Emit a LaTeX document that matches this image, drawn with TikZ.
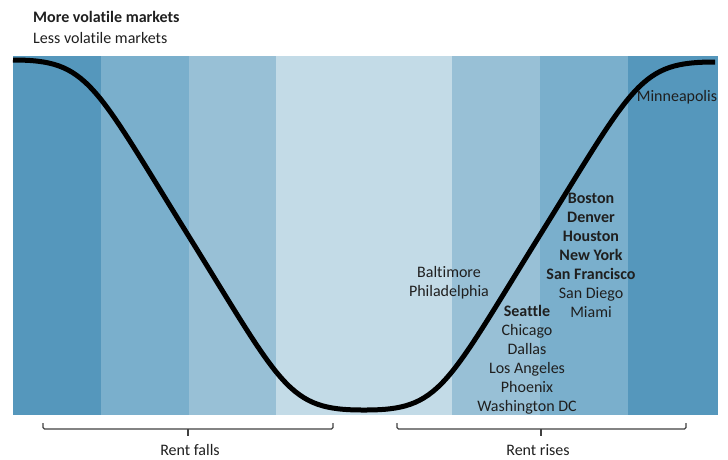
\documentclass[tikz,border=0pt]{standalone}
\usepackage{fontspec}
\setmainfont{Carlito}[Ligatures = NoCommon]
\definecolor{bandone}{HTML}{5597BC}
\definecolor{bandtwo}{HTML}{7AAFCC}
\definecolor{bandthree}{HTML}{98C0D6}
\definecolor{bandfour}{HTML}{C3DBE7}
\tikzset{
    label text/.style = {inner sep = 0pt, text = black!88,
      font = \fontsize{16}{19}\selectfont},
    city list/.style = {label text, align = center},
    bracket/.style = {draw = black!75, line width = 1.3pt,
      rounded corners = 1.5pt},
    rent curve/.style = {draw = black, line width = 5pt}
}

\begin{document}
\begin{tikzpicture}[x = 1pt, y = -1pt]
    \useasboundingbox (0, 0) rectangle (728, 459);

    \fill[bandone] (13, 56) rectangle (101, 415);
    \fill[bandtwo] (101, 56) rectangle (189, 415);
    \fill[bandthree] (189, 56) rectangle (276, 415);
    \fill[bandfour] (276, 56) rectangle (452, 415);
    \fill[bandthree] (452, 56) rectangle (540, 415);
    \fill[bandtwo] (540, 56) rectangle (628, 415);
    \fill[bandone] (628, 56) rectangle (718, 415);

    \draw[rent curve]
      (13, 60) .. controls (88, 60) and (93, 82) .. (188, 235)
      .. controls (283, 388) and (288, 410) .. (363, 410)
      -- (365, 410) .. controls (440, 410) and (445, 388) .. (540, 235)
      .. controls (635, 82) and (640, 62) .. (715, 62);

    \node[label text, anchor = west, font = \fontsize{16}{19}\selectfont\bfseries]
      (more) at (33, 17) {More volatile markets};
    \node[label text, anchor = west] (less) at (33, 38) {Less volatile markets};

    \node[label text] (minneapolis) at (677, 97) {Minneapolis};
    \node[city list] (baltimore) at (449, 283) {Baltimore\\Philadelphia};
    \node[city list] (boston) at (591, 255)
      {\textbf{Boston}\\\textbf{Denver}\\\textbf{Houston}\\\textbf{New York}\\
       \textbf{San Francisco}\\San Diego\\Miami};
    \node[city list] (seattle) at (527, 360)
      {\textbf{Seattle}\\Chicago\\Dallas\\Los Angeles\\Phoenix\\Washington DC};

    \draw[bracket] (43, 423) -- (43, 429) -- (333, 429) -- (333, 423);
    \draw[bracket] (188, 429) -- (188, 436);
    \draw[bracket] (397, 423) -- (397, 429) -- (686, 429) -- (686, 423);
    \draw[bracket] (541, 429) -- (541, 436);

    \node[label text] (falls) at (190, 450) {Rent falls};
    \node[label text] (rises) at (538, 450) {Rent rises};
\end{tikzpicture}
\end{document}
